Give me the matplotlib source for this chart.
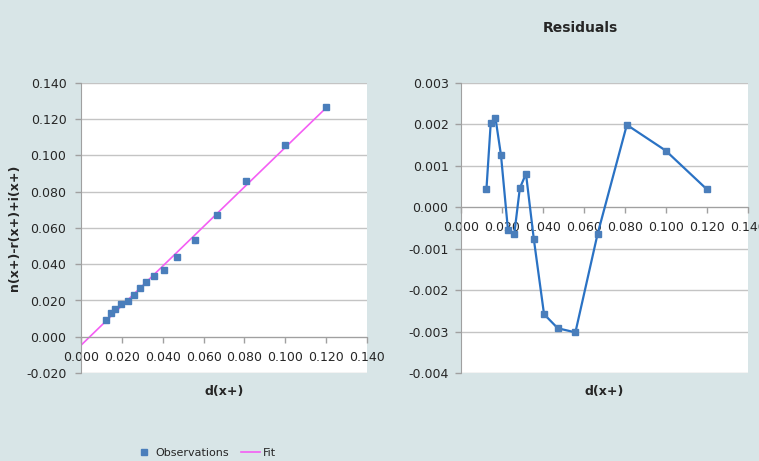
import matplotlib
matplotlib.use("Agg")
import matplotlib.pyplot as plt
from matplotlib.lines import Line2D

# ---- data ----
d_x = [0.0124, 0.0145, 0.0168, 0.0195, 0.0229, 0.0260, 0.0287, 0.0317,
       0.0355, 0.0405, 0.0472, 0.0558, 0.0666, 0.0809, 0.0998, 0.1198]
observed = [0.0094, 0.0129, 0.0155, 0.0179, 0.0199, 0.0228, 0.0267, 0.0304,
            0.0333, 0.0370, 0.0440, 0.0532, 0.0671, 0.0857, 0.1056, 0.1267]
residuals = [0.00043, 0.00203, 0.00216, 0.00126, -0.00054, -0.00064, 0.00046, 0.00081,
             -0.00076, -0.00258, -0.00292, -0.00302, -0.00065, 0.00199, 0.00137, 0.00044]
fit_x = [0.0, 0.1200]
fit_y = [-0.0047, 0.1263]

left_yticks = [-0.02, 0.0, 0.02, 0.04, 0.06, 0.08, 0.10, 0.12, 0.14]
right_yticks = [-0.004, -0.003, -0.002, -0.001, 0.0, 0.001, 0.002, 0.003]
xticks = [0.0, 0.02, 0.04, 0.06, 0.08, 0.10, 0.12, 0.14]

BG = "#d8e5e7"
MARK = "#4a7ebb"
LINE = "#2a72c4"
FIT = "#f45ef4"
GRID = "#c4c4c4"
AXC = "#a0a0a0"
TXT = "#262626"

fig = plt.figure(figsize=(7.59, 4.61), dpi=100, facecolor=BG)
axL = fig.add_axes([81/759, 1-373/461, (367-81)/759, (373-83)/461])
axR = fig.add_axes([461/759, 1-373/461, (748-461)/759, (373-83)/461])

def style(ax, yticks, ylim, ypad):
    ax.set_facecolor("white")
    ax.set_xlim(0, 0.14)
    ax.set_ylim(*ylim)
    ax.set_xticks(xticks)
    ax.set_xticklabels([f"{v:.3f}" for v in xticks])
    ax.set_yticks(yticks)
    ax.set_yticklabels([f"{v:.3f}" for v in yticks])
    for s in ["top", "right"]:
        ax.spines[s].set_visible(False)
    ax.spines["left"].set_color(AXC)
    ax.spines["bottom"].set_color(AXC)
    ax.spines["bottom"].set_position(("data", 0))
    ax.yaxis.grid(True, color=GRID, lw=1)
    ax.set_axisbelow(True)
    ax.tick_params(axis="both", colors=AXC, labelcolor=TXT, labelsize=9,
                   direction="out", length=4, width=1)
    ax.tick_params(axis="x", pad=6)
    ax.tick_params(axis="y", pad=ypad)

style(axL, left_yticks, (-0.02, 0.14), 6.5)
style(axR, right_yticks, (-0.004, 0.003), 5)

axL.plot(fit_x, fit_y, color=FIT, lw=1.2, zorder=2)
axL.plot(d_x, observed, ls="none", marker="s", ms=4.3, color=MARK, zorder=3)
axL.set_ylabel("n(x+)-r(x+)+i(x+)", fontsize=9, fontweight="bold", color=TXT)
axL.yaxis.set_label_coords((21 - 81) / 286, 0.5)
axL.text(0.5, (373 - 391) / 290, "d(x+)", transform=axL.transAxes, ha="center", va="center",
         fontsize=9, fontweight="bold", color=TXT)

axR.plot(d_x, residuals, color=LINE, lw=1.6, marker="s", ms=4.3, mfc=MARK, mec=MARK, zorder=3)
axR.text(0.5, (373 - 391) / 290, "d(x+)", transform=axR.transAxes, ha="center", va="center",
         fontsize=9, fontweight="bold", color=TXT)
fig.text(580/759, 1-28/461, "Residuals", ha="center", va="center",
         fontsize=10, fontweight="bold", color=TXT)

handles = [Line2D([], [], ls="none", marker="s", ms=4, color=MARK),
           Line2D([], [], color=FIT, lw=1.2)]
fig.legend(handles, ["Observations", "Fit"], loc="center", ncol=2,
           bbox_to_anchor=(205/759, 1-453/461), frameon=False, fontsize=8,
           handlelength=1.7, handletextpad=0.2, columnspacing=1.1, labelcolor=TXT,
           borderpad=0, borderaxespad=0)

fig.savefig("out.png", dpi=100, facecolor=BG)
